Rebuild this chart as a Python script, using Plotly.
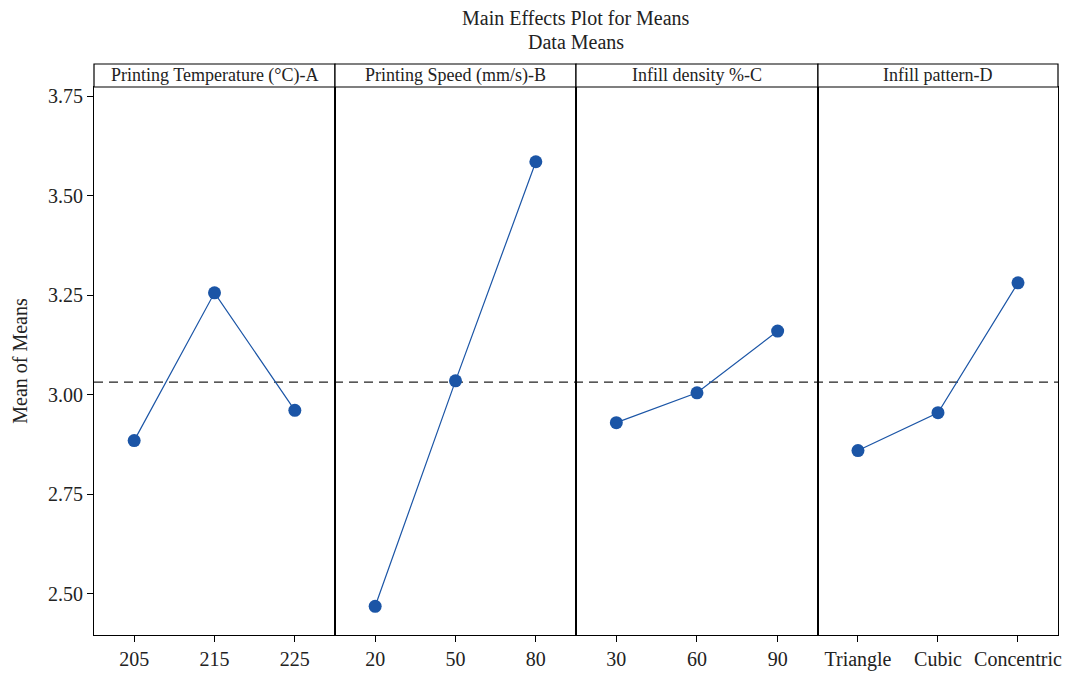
import plotly.graph_objects as go
import numpy as np

factors = ["Printing Temperature (°C)-A", "Printing Speed (mm/s)-B", "Infill density %-C", "Infill pattern-D"]
levels_A = ["205", "215", "225"]
levels_B = ["20", "50", "80"]
levels_C = ["30", "60", "90"]
levels_D = ["Triangle", "Cubic", "Concentric"]
means_A = [2.885, 3.256, 2.961]
means_B = [2.469, 3.035, 3.585]
means_C = [2.930, 3.005, 3.160]
means_D = [2.860, 2.955, 3.281]

levels = [levels_A, levels_B, levels_C, levels_D]
means = [means_A, means_B, means_C, means_D]
grand_mean = float(np.mean(means_A + means_B + means_C + means_D))

# page has an 8px body margin, so the figure is sized/offset to compensate
W, H = 1065, 665
L, R, T, B = 86, 15, 79, 38
plot_h = H - T - B
strip = 23 / plot_h

FONT = "Liberation Serif"
COL = "#1b55a6"
TXT = "#222"

fig = go.Figure()
bounds = [0, 0.25, 0.5, 0.751, 1.0]
for i in range(4):
    ax = "" if i == 0 else str(i + 1)
    fig.add_trace(go.Scatter(
        x=[0, 1, 2], y=means[i], mode="lines+markers",
        line=dict(color=COL, width=1.2),
        marker=dict(color=COL, size=13),
        xaxis="x" + ax, yaxis="y" + ax, showlegend=False,
        hoverinfo="x+y",
    ))
    fig.layout["xaxis" + ax] = dict(
        domain=[bounds[i], bounds[i + 1]], range=[-0.5, 2.5],
        tickvals=[0, 1, 2], ticktext=levels[i], anchor="y" + ax,
        showline=True, linecolor="black", linewidth=1.2, mirror=True,
        ticks="outside", ticklen=6, tickcolor="black", showgrid=False, zeroline=False,
        tickfont=dict(family=FONT, size=20, color=TXT), automargin=False,
    )
    yd = dict(
        domain=[0, 1], range=[2.397, 3.7726], anchor="x" + ax,
        showline=True, linecolor="black", linewidth=1.2, mirror=True,
        showgrid=False, zeroline=False, automargin=False,
    )
    if i == 0:
        yd.update(tickvals=[2.5, 2.75, 3.0, 3.25, 3.5, 3.75],
                  ticktext=["2.50", "2.75", "3.00", "3.25", "3.50", "3.75"],
                  ticks="outside", ticklen=6, tickcolor="black",
                  tickfont=dict(family=FONT, size=20, color=TXT),
                  title=dict(text="Mean of Means", font=dict(family=FONT, size=20, color=TXT), standoff=14))
    else:
        yd.update(matches="y", showticklabels=False, ticks="")
    fig.layout["yaxis" + ax] = yd

    # header strip
    fig.add_shape(type="rect", xref="paper", yref="paper",
                  x0=bounds[i], x1=bounds[i + 1], y0=1, y1=1 + strip,
                  line=dict(color="black", width=1.2), fillcolor="white", layer="above")
    fig.add_annotation(text=factors[i], xref="paper", yref="paper",
                       x=(bounds[i] + bounds[i + 1]) / 2, y=1 + strip / 2,
                       showarrow=False, xanchor="center", yanchor="middle",
                       font=dict(family=FONT, size=18, color=TXT))

fig.add_shape(type="line", xref="paper", yref="y", x0=0, x1=1,
              y0=grand_mean, y1=grand_mean,
              line=dict(color="#222", width=1.4, dash="9px,6px"), layer="below")

fig.add_annotation(text="Main Effects Plot for Means", xref="paper", yref="paper",
                   x=0.5, y=1 + (T + 8 - 18) / plot_h, showarrow=False, xanchor="center", yanchor="middle",
                   font=dict(family=FONT, size=20, color=TXT))
fig.add_annotation(text="Data Means", xref="paper", yref="paper",
                   x=0.5, y=1 + (T + 8 - 42) / plot_h, showarrow=False, xanchor="center", yanchor="middle",
                   font=dict(family=FONT, size=20, color=TXT))

fig.update_layout(width=W, height=H, margin=dict(l=L, r=R, t=T, b=B, autoexpand=False),
                  paper_bgcolor="white", plot_bgcolor="white")

fig.write_html("out.html")
